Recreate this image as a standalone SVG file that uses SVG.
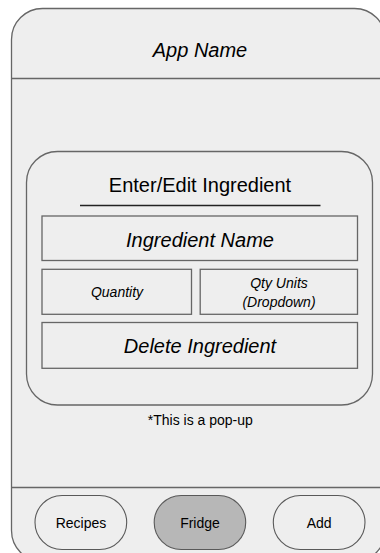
<svg xmlns="http://www.w3.org/2000/svg" width="380" height="553" viewBox="0 0 380 553">
  <style>
    .shape { fill: #eeeeee; stroke: #666666; stroke-width: 1.3; }
    .pill { fill: #eeeeee; stroke: #595959; stroke-width: 1.1; }
    .pill-active { fill: #b7b7b7; stroke: #595959; stroke-width: 1.1; }
    .sep { stroke: #666666; stroke-width: 1.3; fill: none; }
    text { font-family: "Liberation Sans", Arial, sans-serif; fill: #000000; text-anchor: middle; }
    .big { font-size: 20px; }
    .it { font-style: italic; }
    .small { font-size: 14px; }
  </style>
  <rect width="380" height="553" fill="#ffffff"/>
  <g id="phone">
    <rect class="shape" x="11.5" y="8.5" width="374" height="553" rx="31" ry="31"/>
    <line class="sep" x1="11.5" y1="78.5" x2="385.5" y2="78.5"/>
    <line class="sep" x1="11.5" y1="487.5" x2="385.5" y2="487.5"/>
  </g>
  <g id="app-name">
    <text class="big it" x="200" y="56.5">App Name</text>
  </g>
  <g id="popup">
    <rect class="shape" x="26.5" y="151.5" width="346" height="253.5" rx="31" ry="31"/>
    <text class="big" x="200" y="191.7">Enter/Edit Ingredient</text>
    <line x1="80" y1="205.5" x2="320.5" y2="205.5" stroke="#222222" stroke-width="1.4"/>
  </g>
  <g id="ingredient-name">
    <rect class="shape" x="42" y="216" width="315.5" height="44.5"/>
    <text class="big it" x="200" y="246.7">Ingredient Name</text>
  </g>
  <g id="quantity">
    <rect class="shape" x="42" y="269.3" width="149.5" height="45"/>
    <text class="small it" x="117" y="296.7">Quantity</text>
  </g>
  <g id="qty-units">
    <rect class="shape" x="200.2" y="269.3" width="157.3" height="45"/>
    <text class="small it" x="279" y="288.3">Qty Units</text>
    <text class="small it" x="279" y="306.7">(Dropdown)</text>
  </g>
  <g id="delete-ingredient">
    <rect class="shape" x="42" y="322.5" width="315.5" height="45.8"/>
    <text class="big it" x="200" y="352.7">Delete Ingredient</text>
  </g>
  <g id="note">
    <text class="small" x="200.3" y="425">*This is a pop-up</text>
  </g>
  <g id="btn-recipes">
    <rect class="pill" x="35" y="495.5" width="91.7" height="54" rx="27" ry="27"/>
    <text class="small" x="81" y="528.3">Recipes</text>
  </g>
  <g id="btn-fridge">
    <rect class="pill-active" x="154.2" y="495.5" width="91.5" height="54" rx="27" ry="27"/>
    <text class="small" x="200" y="528.3">Fridge</text>
  </g>
  <g id="btn-add">
    <rect class="pill" x="273.3" y="495.5" width="91.7" height="54" rx="27" ry="27"/>
    <text class="small" x="319.2" y="528.3">Add</text>
  </g>
  <g id="connectors"></g>
</svg>
